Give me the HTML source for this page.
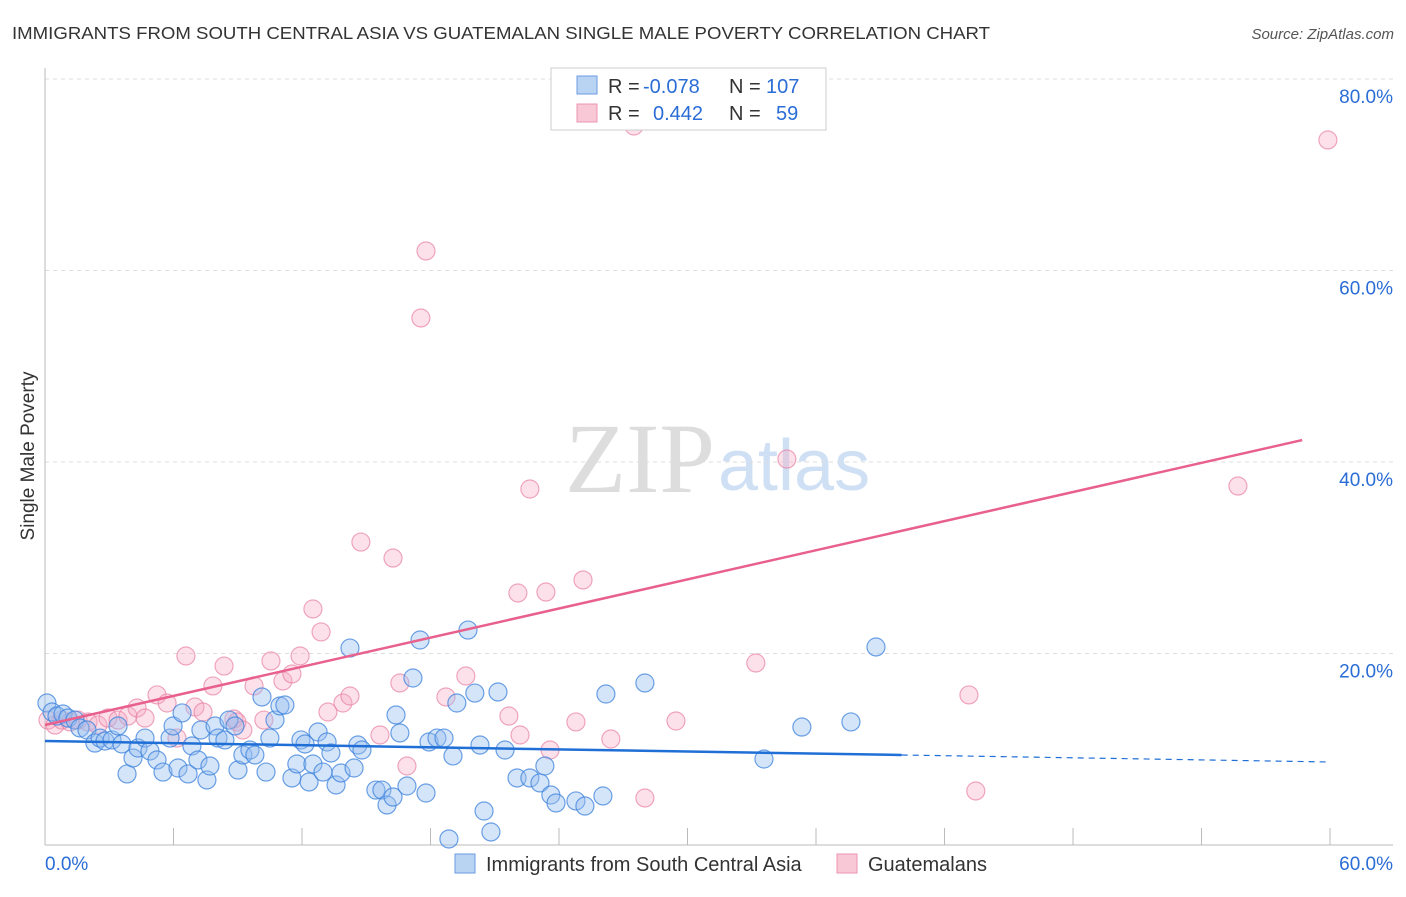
<!DOCTYPE html>
<html><head><meta charset="utf-8"><style>
body{margin:0;background:#fff;font-family:"Liberation Sans",sans-serif;}
svg text{font-family:"Liberation Sans",sans-serif;}
</style></head><body>
<svg id="chart" width="1406" height="892">
<text x="12" y="39" font-size="17.5" fill="#333" textLength="978" lengthAdjust="spacingAndGlyphs">IMMIGRANTS FROM SOUTH CENTRAL ASIA VS GUATEMALAN SINGLE MALE POVERTY CORRELATION CHART</text>
<text x="1394" y="39" font-size="15" fill="#555" font-style="italic" text-anchor="end">Source: ZipAtlas.com</text>
<text x="715" y="492" font-size="100" fill="#ddd" text-anchor="end" style="font-family:'Liberation Serif',serif">ZIP</text>
<text x="718" y="490" font-size="72" fill="#cfe0f5">atlas</text>
<text transform="translate(34,456) rotate(-90)" font-size="19" fill="#333" text-anchor="middle">Single Male Poverty</text>
<g id="grid"></g><g id="axes"></g><g id="marks"></g><g id="lines"></g>
<g>
<rect x="551" y="68" width="275" height="62" fill="#fff" stroke="#ccc"/>
<rect x="577" y="76" width="20" height="18" fill="#b9d3f3" stroke="#6a9be0"/>
<rect x="577" y="104" width="20" height="18" fill="#f9c8d6" stroke="#ec94b0"/>
<text x="608" y="93" font-size="20" fill="#333">R =</text>
<text x="643" y="93" font-size="20" fill="#2a6dd6">-0.078</text>
<text x="729" y="93" font-size="20" fill="#333">N =</text>
<text x="766" y="93" font-size="20" fill="#2a6dd6">107</text>
<text x="608" y="120" font-size="20" fill="#333">R =</text>
<text x="653" y="120" font-size="20" fill="#2a6dd6">0.442</text>
<text x="729" y="120" font-size="20" fill="#333">N =</text>
<text x="776" y="120" font-size="20" fill="#2a6dd6">59</text>
</g>
<g>
<rect x="455" y="854" width="20" height="19" fill="#b9d3f3" stroke="#6a9be0"/>
<text x="486" y="871" font-size="20" fill="#333">Immigrants from South Central Asia</text>
<rect x="837" y="854" width="20" height="19" fill="#f9c8d6" stroke="#ec94b0"/>
<text x="868" y="871" font-size="20" fill="#333">Guatemalans</text>
</g>
</svg>
<script>
const blueX=[0.09,0.33,0.56,0.84,1.07,1.40,1.63,1.96,2.33,2.57,2.80,3.13,3.41,3.59,3.83,4.11,4.34,4.67,4.90,5.23,5.51,5.84,5.98,6.21,6.40,6.68,6.86,7.14,7.28,7.56,7.70,7.94,8.08,8.40,8.59,8.87,9.01,9.24,9.57,9.80,10.13,10.32,10.50,10.74,10.97,11.20,11.53,11.76,11.95,12.14,12.33,12.51,12.75,12.98,13.17,13.35,13.59,13.82,14.24,14.43,14.61,14.80,15.45,15.73,15.97,16.25,16.39,16.57,16.90,17.18,17.51,17.79,17.93,18.30,18.63,18.86,19.05,19.23,19.75,20.07,20.31,20.50,20.82,21.15,21.48,22.04,22.64,23.11,23.34,23.62,23.86,24.79,25.21,26.05,26.19,28.01,33.57,35.34,37.63,38.80];
const blueY=[14.83,13.89,13.47,13.68,13.26,13.05,12.22,12.01,10.65,11.17,10.86,10.97,12.43,10.55,7.42,9.09,10.13,11.17,9.82,8.88,7.62,11.17,12.43,8.04,13.79,7.42,10.34,8.88,12.01,6.79,8.25,12.43,11.17,10.97,13.05,12.43,7.83,9.40,9.92,9.40,15.46,7.62,11.17,13.05,14.52,14.62,7.00,8.46,10.97,10.55,6.58,8.46,11.80,7.62,10.76,9.61,6.27,7.52,20.57,8.04,10.44,9.92,5.74,5.74,4.18,5.01,13.58,11.70,6.16,17.44,21.41,5.43,10.76,11.17,11.17,0.63,9.30,14.83,22.45,15.87,10.44,3.55,1.36,15.98,9.92,7.00,7.00,6.48,8.25,5.22,4.39,4.60,4.07,5.12,15.77,16.92,8.98,12.32,12.85,20.68];
const pinkX=[0.14,0.47,0.79,1.17,1.54,2.01,2.47,2.94,3.41,3.87,4.30,4.67,5.23,5.70,6.16,6.58,7.00,7.38,7.84,8.36,8.82,8.96,9.24,9.76,10.22,10.55,11.11,11.53,11.91,12.51,12.89,13.21,13.91,14.24,14.75,15.64,16.25,16.57,16.90,17.55,17.79,18.72,19.65,21.66,22.18,22.08,22.64,23.39,23.58,24.79,25.12,26.42,27.50,28.01,29.46,33.19,34.64,43.14,43.46,55.70,59.90];
const pinkY=[13.05,12.53,13.05,12.85,13.05,12.85,12.53,13.26,13.05,13.47,14.31,13.26,15.67,14.83,11.17,19.74,14.41,13.89,16.61,18.69,13.16,12.85,12.01,16.61,13.05,19.22,17.13,17.86,19.74,24.65,22.25,13.89,14.83,15.56,31.64,11.49,29.97,16.92,8.25,55.04,62.04,15.46,17.65,13.47,11.49,26.32,37.18,26.42,9.92,12.85,27.68,11.07,75.09,4.91,12.95,19.01,40.31,15.67,5.64,37.49,73.63];
const blueTrend=[10.86,-0.0365];
const pinkTrend=[12.53,0.507];
const yTicks=[20,40,60,80];
const xTicks=[0,6,12,18,24,30,36,42,48,54,60];
const NS="http://www.w3.org/2000/svg";
const X=v=>45+v*21.417, Y=v=>845-v*9.575;
function mk(t,a,p){const e=document.createElementNS(NS,t);for(const k in a)e.setAttribute(k,a[k]);document.getElementById(p).appendChild(e);return e;}
yTicks.forEach(t=>{
 const l=mk('line',{x1:45,x2:1393,y1:Y(t),y2:Y(t),stroke:'#ddd','stroke-dasharray':'4,4'},'grid');
 
 
 const tx=mk('text',{x:1393,y:Y(t)+24,'font-size':19,fill:'#2a6dd6','text-anchor':'end'},'grid');tx.textContent=t.toFixed(1)+'%';
 
 
});
mk('line',{x1:45,x2:45,y1:68,y2:845,stroke:'#bbb'},'axes');
mk('line',{x1:45,x2:1393,y1:845,y2:845,stroke:'#bbb'},'axes');
xTicks.forEach(t=>{const l=mk('line',{x1:X(t),x2:X(t),y1:828,y2:845,stroke:'#bbb'},'axes');
 
 });
const xl0=mk('text',{x:45,y:870,'font-size':19,fill:'#2a6dd6'},'axes');xl0.textContent='0.0%';


const xl1=mk('text',{x:1393,y:870,'font-size':19,fill:'#2a6dd6','text-anchor':'end'},'axes');xl1.textContent='60.0%';


pinkX.forEach((x,i)=>{const c=mk('circle',{cx:X(x),cy:Y(pinkY[i]),r:9,fill:'rgba(245,170,195,0.35)',stroke:'rgba(232,130,165,0.7)','stroke-width':1.2},'marks');
 
 });
blueX.forEach((x,i)=>{const c=mk('circle',{cx:X(x),cy:Y(blueY[i]),r:9,fill:'rgba(150,190,240,0.4)',stroke:'rgba(60,130,220,0.75)','stroke-width':1.2},'marks');
 
 });
const bt=x=>blueTrend[0]+blueTrend[1]*x, pt=x=>pinkTrend[0]+pinkTrend[1]*x;
const b1=mk('line',{x1:X(0),y1:Y(bt(0)),x2:X(40),y2:Y(bt(40)),stroke:'#1f6fd6','stroke-width':2.5},'lines');


const b2=mk('line',{x1:X(40),y1:Y(bt(40)),x2:X(60),y2:Y(bt(60)),stroke:'#1f6fd6','stroke-width':1.2,'stroke-dasharray':'6,5'},'lines');


const p1=mk('line',{x1:X(0),y1:Y(pt(0)),x2:X(58.7),y2:Y(pt(58.7)),stroke:'#e8608c','stroke-width':2.5},'lines');


</script>
</body></html>
